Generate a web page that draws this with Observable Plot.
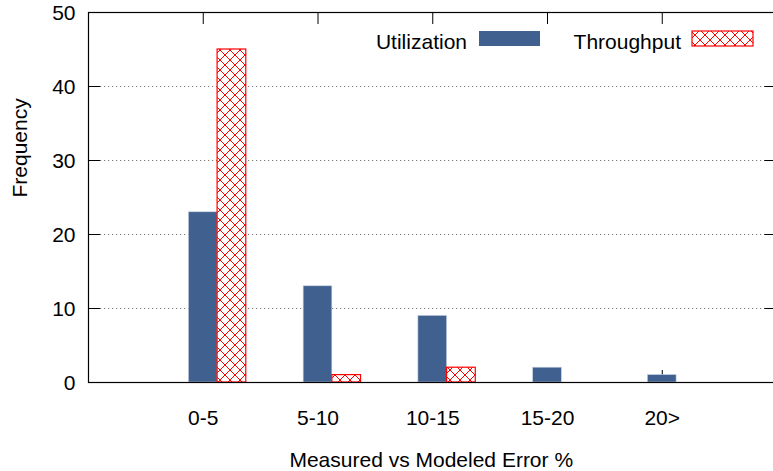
<!DOCTYPE html>
<html>
<head>
<meta charset="utf-8">
<script src="https://cdn.jsdelivr.net/npm/d3@7"></script>
<script src="https://cdn.jsdelivr.net/npm/@observablehq/plot@0.6"></script>
<style>
  html, body { margin: 0; padding: 0; background: #fff; }
  #chart { width: 773px; height: 471px; overflow: hidden; }
</style>
</head>
<body>
<div id="chart"></div>
<script>
// ---- data ----
const categories = ["0-5", "5-10", "10-15", "15-20", "20>"];
const utilization = [23, 13, 9, 2, 1];
const throughput = [45, 1, 2, 0, 0];
const yTicks = [0, 10, 20, 30, 40, 50];
const gridTicks = [10, 20, 30, 40];
const seriesNames = ["Utilization", "Throughput"];
const xTitle = "Measured vs Modeled Error %";
const yTitle = "Frequency";

// ---- derived tables ----
const idx = categories.map((c, i) => i);
const utilRows = categories.map((c, i) => ({i, v: utilization[i]}));
const thruRows = categories.map((c, i) => ({i, v: throughput[i]})).filter(d => d.v > 0);

const BLUE = "#406090";
const RED = "#ff0000";
const FONT = "'Liberation Sans', Arial, Helvetica, sans-serif";
const FS = 21;

const W = 773, H = 471;
const mL = 88, mR = -3.5, mT = 12, mB = 89;
const frameW = W - mL - mR, frameH = H - mT - mB;
const tickLen = 12;
const bw = 0.25;

const chart = Plot.plot({
  width: W,
  height: H,
  marginLeft: mL,
  marginRight: mR,
  marginTop: mT,
  marginBottom: mB,
  style: {fontFamily: FONT, fontSize: FS + "px", background: "#fff", color: "#000", overflow: "hidden"},
  x: {type: "linear", domain: [-1, 5], axis: null},
  y: {domain: [0, 50], axis: null},
  marks: [
    // dotted grid
    Plot.ruleY(gridTicks, {y: d => d, stroke: "#777", strokeWidth: 1, strokeDasharray: "1.2,2.8"}),
    // inward ticks
    Plot.tickY(yTicks, {y: d => d, stroke: "#000", insetRight: frameW - tickLen}),
    Plot.tickY(yTicks, {y: d => d, stroke: "#000", insetLeft: frameW - tickLen}),
    Plot.tickX(idx, {x: d => d, stroke: "#000", insetTop: frameH - tickLen}),
    Plot.tickX(idx, {x: d => d, stroke: "#000", insetBottom: frameH - tickLen}),
    // bars
    Plot.rectY(utilRows, {x1: d => d.i - bw / 2, x2: d => d.i + bw / 2, y1: 0, y2: d => d.v,
      fill: BLUE, stroke: "#c6d0e0", strokeWidth: 0.6}),
    Plot.rectY(thruRows, {x1: d => d.i + bw / 2, x2: d => d.i + 1.5 * bw, y1: 0, y2: d => d.v,
      fill: "url(#hatch)", stroke: RED, strokeWidth: 1.2}),
    // frame
    Plot.frame({stroke: "#000", strokeWidth: 1.2}),
    // y tick labels
    Plot.axisY(yTicks, {tickSize: 0, tickPadding: 13, fontSize: FS, label: null, dy: 1}),
    // x tick labels
    Plot.text(categories, {x: (d, i) => i, frameAnchor: "bottom", dy: 35.5, lineAnchor: "middle",
      text: d => d, fontSize: FS, fill: "#000"}),
    // axis titles
    Plot.text([xTitle], {frameAnchor: "bottom", dx: -1.5, dy: 78, lineAnchor: "middle", fontSize: FS, fill: "#000"}),
    Plot.text([yTitle], {frameAnchor: "left", rotate: -90, dx: -68, lineAnchor: "middle", fontSize: FS, fill: "#000"})
  ]
});

// hatch pattern definition
const svg = d3.select(chart);
const defs = svg.insert("defs", ":first-child");
const P = 10;
const pat = defs.append("pattern")
  .attr("id", "hatch")
  .attr("patternUnits", "userSpaceOnUse")
  .attr("width", P).attr("height", P);
pat.append("rect").attr("width", P).attr("height", P).attr("fill", "#fff");
pat.append("path")
  .attr("d", `M0,0L${P},${P}M${P},0L0,${P}M-1,${P-1}L1,${P+1}M${P-1},-1L${P+1},1M-1,1L1,-1M${P-1},${P+1}L${P+1},${P-1}`)
  .attr("stroke", RED).attr("stroke-width", 1).attr("fill", "none");

// legend
const legend = svg.append("g").attr("font-family", FONT).attr("font-size", FS);
const legendItems = [
  {name: seriesNames[0], textX: 467, swX: 479, fill: BLUE, stroke: "none"},
  {name: seriesNames[1], textX: 681, swX: 692, fill: "url(#hatch)", stroke: RED}
];
legendItems.forEach(it => {
  legend.append("text").attr("x", it.textX).attr("y", 49).attr("text-anchor", "end").attr("fill", "#000").text(it.name);
  legend.append("rect").attr("x", it.swX).attr("y", 31).attr("width", 61).attr("height", 15)
    .attr("fill", it.fill).attr("stroke", it.stroke).attr("stroke-width", 1.2);
});

document.getElementById("chart").appendChild(chart);
</script>
</body>
</html>
